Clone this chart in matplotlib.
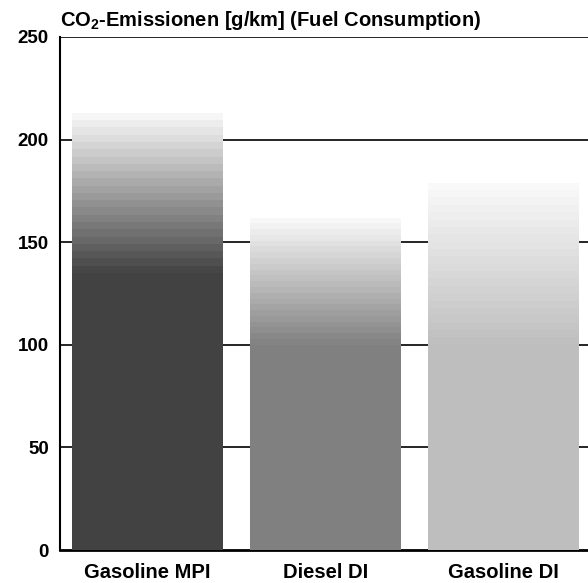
import numpy as np
import matplotlib
matplotlib.use("Agg")
import matplotlib.pyplot as plt
from matplotlib.colors import to_rgb

categories = ["Gasoline MPI", "Diesel DI", "Gasoline DI"]
base_values = [135, 100, 100]      # solid part of each bar
total_values = [213, 162, 179]     # top of the fading part
bar_colors = ["#424242", "#808080", "#bebebe"]
yticks = [0, 50, 100, 150, 200, 250]
title = r"$\mathrm{CO_2}$-Emissionen [g/km] (Fuel Consumption)"

plt.rcParams["font.family"] = ["Liberation Sans", "DejaVu Sans"]
plt.rcParams["mathtext.fontset"] = "custom"
plt.rcParams["mathtext.rm"] = "Liberation Sans:bold"
plt.rcParams["mathtext.it"] = "Liberation Sans:bold"
plt.rcParams["mathtext.bf"] = "Liberation Sans:bold"

fig = plt.figure(figsize=(5.88, 5.83), dpi=100)
ax = fig.add_axes([0.102, 0.0566, 0.898, 0.88])

x = np.arange(len(categories))
width = 0.85
n_bands = 22
white = np.array([0.98, 0.98, 0.98])

for xi, b, t, c in zip(x, base_values, total_values, bar_colors):
    ax.bar(xi, b, width=width, color=c, zorder=3, linewidth=0)
    edges = np.linspace(b, t, n_bands + 1)
    c0 = np.array(to_rgb(c))
    for k in range(n_bands):
        f = (k + 0.5) / n_bands
        col = c0 + (white - c0) * f
        ax.bar(xi, edges[k + 1] - edges[k], bottom=edges[k], width=width,
               color=tuple(col), zorder=3, linewidth=0)

ax.set_xlim(-0.49, 2.475)
ax.set_ylim(0, 250)
ax.set_yticks(yticks)
ax.set_yticklabels([str(v) for v in yticks], fontsize=13.5, fontweight="bold")
ax.set_xticks(x)
ax.set_xticklabels(categories, fontsize=14.5, fontweight="bold")
ax.tick_params(axis="y", length=0, pad=8)
ax.tick_params(axis="x", length=0, pad=9)

for v in yticks[1:]:
    ax.axhline(v, color="black", linewidth=1.2, zorder=1)

for s in ["top", "right"]:
    ax.spines[s].set_visible(False)
ax.spines["left"].set_linewidth(1.5)
ax.spines["bottom"].set_linewidth(2)

fig.text(60 / 588, 1 - 21 / 583, title, fontsize=14.5, fontweight="bold",
         ha="left", va="center")

fig.savefig("out.png", dpi=100)
